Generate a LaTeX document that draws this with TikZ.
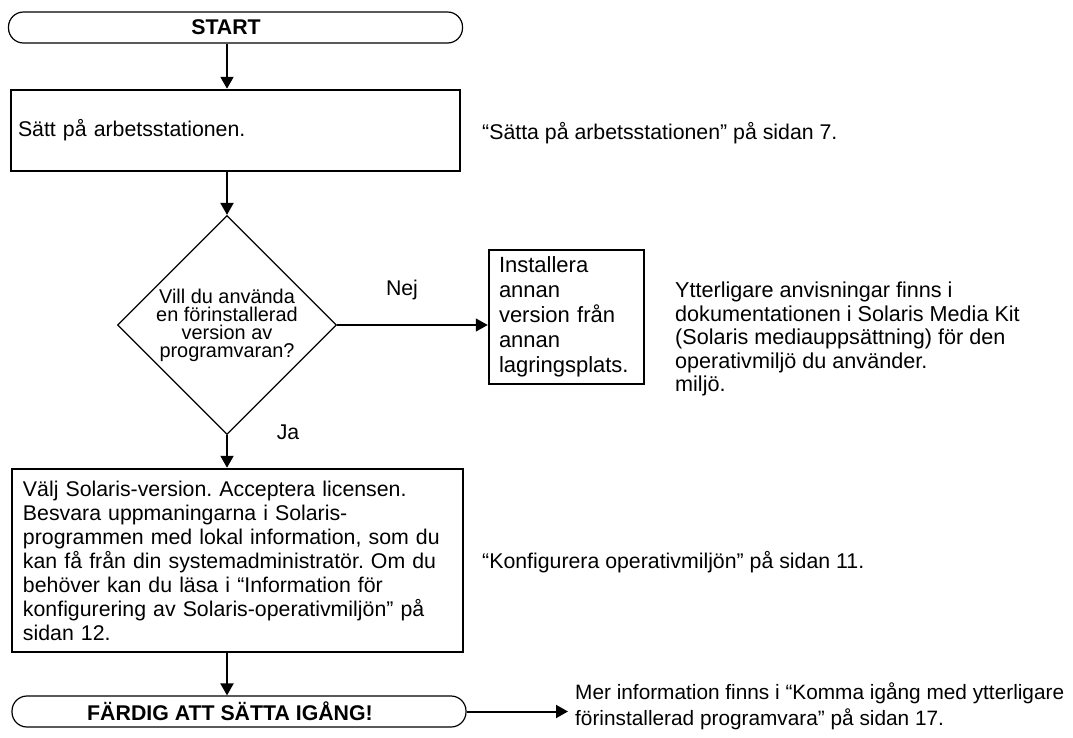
\documentclass[tikz,border=0pt]{standalone}
\usepackage{fontspec}
\setmainfont{Liberation Sans}
\usetikzlibrary{shapes.geometric,arrows.meta}
\frenchspacing
\begin{document}
\begin{tikzpicture}[x=1pt,y=-1pt,
  every node/.style={font=\fontsize{21.3}{24}\selectfont},
  term/.style={draw, line width=1.2pt, rounded corners=15pt, minimum width=454pt, minimum height=31pt, inner sep=0pt, font=\fontsize{21.3}{24}\selectfont\bfseries},
  procbox/.style={draw, line width=2.5pt, inner ysep=0pt, align=left},
  decision/.style={draw, diamond, line width=1.2pt, minimum width=219pt, minimum height=219pt, inner sep=-6pt, align=center, font=\fontsize{19.9}{18}\selectfont},
  note/.style={anchor=west, align=left, inner sep=0pt},
  flow/.style={line width=2pt, -{Triangle[width=13pt,length=12pt]}},
  flowthin/.style={line width=1.3pt, -{Triangle[width=13pt,length=12pt]}},
  lbl/.style={inner sep=0pt}
]
\useasboundingbox (0,0) rectangle (1073,737);

\node[term] (start) at (235.5,27.5) {START\hspace*{19pt}};
\node[procbox, text width=435pt, inner xsep=7pt, minimum height=81pt] (box1) at (235.5,130.5) {Sätt på arbetsstationen.};
\node[note] (t1) at (482,133) {“Sätta på arbetsstationen” på sidan 7.};

\node[decision] (dia) at (227,325) {Vill du använda\\en förinstallerad\\version av\\programvaran?};
\node[lbl] (nej) at (402,290) {Nej};
\node[lbl] (ja) at (288,432) {Ja};

\node[procbox, text width=135pt, inner xsep=10pt, minimum height=134pt, font=\fontsize{22}{25}\selectfont] (box2) at (566.5,317) {Installera\\annan\\version från\\annan\\lagringsplats.};
\node[note, font=\fontsize{21.6}{23.5}\selectfont] (t2) at (675,339) {Ytterligare anvisningar finns i\\dokumentationen i Solaris Media Kit\\(Solaris mediauppsättning) för den\\operativmiljö du använder.\\miljö.};

\node[procbox, text width=429pt, inner xsep=11pt, minimum height=183pt] (box3) at (237.5,560.5) {Välj Solaris-version. Acceptera licensen.\\Besvara uppmaningarna i Solaris-\\programmen med lokal information, som du\\kan få från din systemadministratör. Om du\\behöver kan du läsa i “Information för\\konfigurering av Solaris-operativmiljön” på\\sidan 12.};
\node[note] (t3) at (482,562) {“Konfigurera operativmiljön” på sidan 11.};

\node[term] (end) at (239,711.5) {FÄRDIG ATT SÄTTA IGÅNG!\hspace*{18pt}};
\node[note, inner xsep=7pt, inner ysep=0pt, font=\fontsize{20.8}{26}\selectfont] (t4) at (568,706) {Mer information finns i “Komma igång med ytterligare\\förinstallerad programvara” på sidan 17.};

\draw[flow] (start.south -| dia.north) -- (box1.north -| dia.north);
\draw[flow] (box1.south -| dia.north) -- (dia.north);
\draw[flowthin] (dia.east) -- (dia.east -| box2.west);
\draw[flow] (dia.south) -- (box3.north -| dia.south);
\draw[flow] (box3.south -| dia.south) -- (end.north -| dia.south);
\draw[flow] (end.east) -- (end.east -| t4.west);
\end{tikzpicture}
\end{document}
